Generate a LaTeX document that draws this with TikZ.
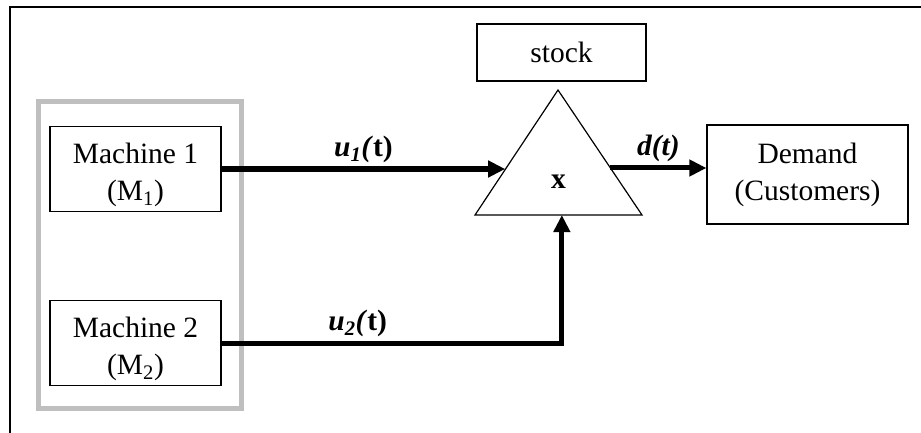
\documentclass[tikz,border=0pt]{standalone}
\usepackage{fontspec}
\setmainfont{Liberation Serif}
\usetikzlibrary{arrows.meta,positioning,calc}
\newcommand{\topstrut}{\rule{0pt}{32pt}}
\begin{document}
\begin{tikzpicture}[
    x=1pt, y=-1pt,
    node distance=174pt,
    every node/.style={font=\fontsize{29.5}{37}\selectfont},
    box/.style={rectangle, draw, line width=1.2pt, align=center, inner sep=0pt},
    machine/.style={box, minimum width=171pt, minimum height=85pt},
    arrow/.style={-{Triangle[length=17pt,width=16pt]}, line width=5pt},
    lbl/.style={above, inner sep=4pt, font=\fontsize{29.5}{37}\selectfont\bfseries}
]
\useasboundingbox (0,0) rectangle (921,433);
% cadre
\draw[line width=1.2pt] (10,433) -- (10,7) -- (921,7);
% groupe des machines
\draw[line width=5pt, black!25] (38,102) rectangle (241,408);
% machines
\node[machine] (m1) at (135.5,169) {\topstrut Machine 1\\(M\textsubscript{1})};
\node[machine, below of=m1] (m2) {\topstrut Machine 2\\(M\textsubscript{2})};
% stock
\node[box, minimum width=169pt, minimum height=57pt] (stock) at (561.5,52.5) {stock};
\coordinate (apex) at (558,90);
\coordinate (bl) at (475,215);
\coordinate (br) at (642,215);
\draw[line width=1.2pt] (apex) -- (bl) -- (br) -- cycle;
\node[font=\fontsize{29.5}{37}\selectfont\bfseries] (level) at (558.5,182) {x};
% demande
\node[box, minimum width=201pt, minimum height=99pt] (demand) at (807.5,174.5) {Demand\\(Customers)};
% flux
\coordinate (in1) at ($(apex)!0.636!(bl)$);
\coordinate (in2) at ($(bl)!0.52!(br)$);
\coordinate (out) at ($(apex)!0.624!(br)$);
\draw[arrow] (m1.east) -- node[lbl] {\textit{u\textsubscript{1}(}t)} (m1.east -| in1);
\draw[arrow] (m2.east) -| node[lbl, pos=0.2] {\textit{u\textsubscript{2}(}t)} (in2);
\draw[arrow] (out) -- node[lbl] {\textit{d(t)}} (out -| demand.west);
\end{tikzpicture}
\end{document}
